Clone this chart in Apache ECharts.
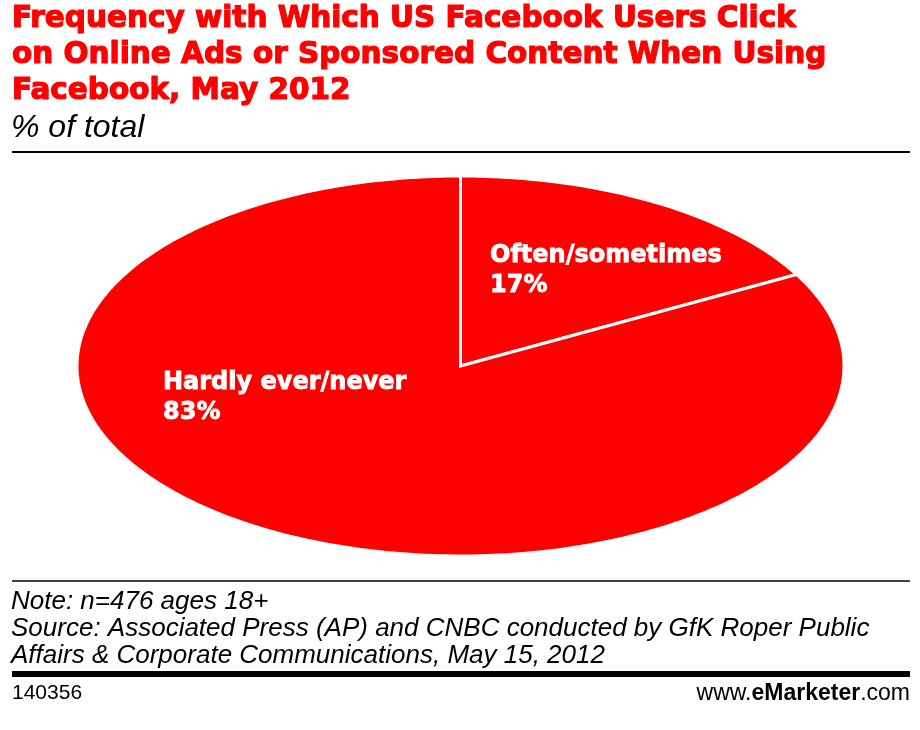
<!DOCTYPE html>
<html>
<head>
<meta charset="utf-8">
<script src="https://cdn.jsdelivr.net/npm/echarts@6/dist/echarts.min.js"></script>
<style>
  html, body { margin: 0; padding: 0; background: #fff; }
  #chart { width: 920px; height: 730px; }
</style>
</head>
<body>
<div id="chart"></div>
<script>
// ---- data ----
const categories = ['Often/sometimes', 'Hardly ever/never'];
const shares = [17, 83];
const titleLines = [
  'Frequency with Which US Facebook Users Click',
  'on Online Ads or Sponsored Content When Using',
  'Facebook, May 2012'
];
const subtitleText = '% of total';
const noteLines = [
  'Note: n=476 ages 18+',
  'Source: Associated Press (AP) and CNBC conducted by GfK Roper Public',
  'Affairs & Corporate Communications, May 15, 2012'
];
const chartId = '140356';

// ---- layout / style (not data) ----
const RED = '#fe0000';
const ELL = { cx: 460.5, cy: 366, rx: 383.5, ry: 190 };
const labelAnchors = [[490, 241], [163, 368]];

const chart = echarts.init(document.getElementById('chart'), null, { renderer: 'canvas' });

function renderSlice(params, api) {
  const idx = params.dataIndex;
  const total = shares.reduce((a, b) => a + b, 0);
  let before = 0;
  for (let i = 0; i < idx; i++) before += shares[i];
  const val = api.value(0);
  const a0 = before / total * Math.PI * 2;
  const a1 = (before + val) / total * Math.PI * 2;
  const steps = Math.max(8, Math.ceil((a1 - a0) / (Math.PI * 2) * 360));
  const pts = [[ELL.cx, ELL.cy]];
  for (let s = 0; s <= steps; s++) {
    const t = a0 + (a1 - a0) * s / steps;
    pts.push([ELL.cx + ELL.rx * Math.sin(t), ELL.cy - ELL.ry * Math.cos(t)]);
  }
  const anchor = labelAnchors[idx];
  return {
    type: 'group',
    children: [
      {
        type: 'polygon',
        shape: { points: pts },
        style: { fill: RED, stroke: '#ffffff', lineWidth: 3, lineJoin: 'miter' }
      },
      {
        type: 'text',
        z2: 10,
        style: {
          x: anchor[0], y: anchor[1],
          text: categories[idx] + '\n' + val + '%',
          fill: '#ffffff',
          stroke: '#ffffff',
          lineWidth: 0.8,
          font: 'bold 24px "DejaVu Sans"',
          lineHeight: 30,
          align: 'left',
          verticalAlign: 'top'
        }
      }
    ]
  };
}

chart.setOption({
  animation: false,
  backgroundColor: '#ffffff',
  title: [
    {
      text: titleLines.join('\n'),
      left: 12, top: 1, padding: 0,
      textStyle: {
        color: RED, fontFamily: 'DejaVu Sans', fontWeight: 'bold', fontSize: 29.5, lineHeight: 36,
        textBorderColor: RED, textBorderWidth: 1.2
      }
    },
    {
      text: subtitleText,
      left: 11, top: 112, padding: 0,
      textStyle: { color: '#000', fontFamily: 'Liberation Sans', fontStyle: 'italic', fontWeight: 'normal', fontSize: 32, lineHeight: 32 }
    },
    {
      text: noteLines.join('\n'),
      left: 11, top: 588, padding: 0,
      textStyle: { color: '#000', fontFamily: 'Liberation Sans', fontStyle: 'italic', fontWeight: 'normal', fontSize: 26, lineHeight: 27 }
    },
    {
      text: chartId,
      left: 12, top: 683, padding: 0,
      textStyle: { color: '#000', fontFamily: 'Liberation Sans', fontWeight: 'normal', fontSize: 21, lineHeight: 21 }
    }
  ],
  graphic: [
    { type: 'line', shape: { x1: 12, y1: 152, x2: 910, y2: 152 }, style: { stroke: '#000', lineWidth: 2 } },
    { type: 'line', shape: { x1: 12, y1: 581, x2: 910, y2: 581 }, style: { stroke: '#000', lineWidth: 1.5 } },
    { type: 'line', shape: { x1: 12, y1: 674, x2: 910, y2: 674 }, style: { stroke: '#000', lineWidth: 6 } },
    {
      type: 'text', right: 10, top: 682,
      style: {
        text: '{n|www.}{e|e}{b|Marketer}{n|.com}',
        rich: {
          n: { fontFamily: 'Liberation Sans', fontSize: 23, color: '#000' },
          e: { fontFamily: 'Liberation Sans', fontSize: 23, fontWeight: 'bold', color: RED },
          b: { fontFamily: 'Liberation Sans', fontSize: 23, fontWeight: 'bold', color: '#000' }
        }
      }
    }
  ],
  series: [{
    type: 'custom',
    coordinateSystem: 'none',
    renderItem: renderSlice,
    data: shares.map((v, i) => ({ name: categories[i], value: [v] }))
  }]
});
</script>
</body>
</html>
